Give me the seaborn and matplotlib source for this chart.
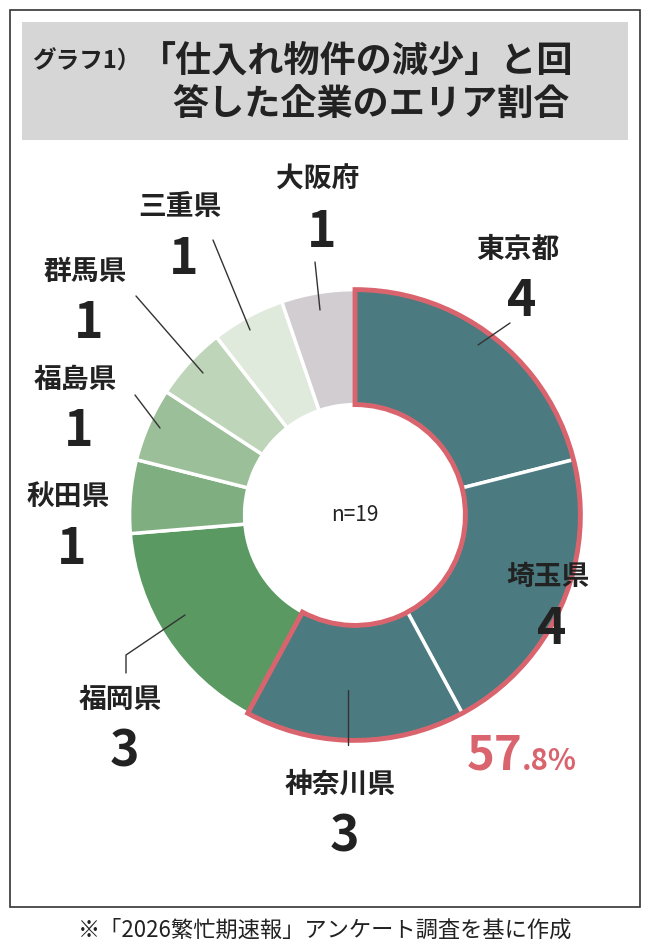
import matplotlib
matplotlib.use("Agg")
import matplotlib.pyplot as plt
from matplotlib.patches import Rectangle, Wedge
import seaborn as sns

sns.set_theme(style="white")
plt.rcParams['font.family'] = ['Noto Sans CJK JP', 'DejaVu Sans']

areas = ['東京都', '埼玉県', '神奈川県', '福岡県', '秋田県', '福島県', '群馬県', '三重県', '大阪府']
counts = [4, 4, 3, 3, 1, 1, 1, 1, 1]
colors = ['#4b7b80', '#4b7b80', '#4b7b80', '#5a9a62', '#7fae80', '#9bbf98',
          '#bed5ba', '#dfe9dc', '#d1cdd1']
share_int, share_dec = '57', '.8%'
n_total = sum(counts)

W, H = 649, 948
fig = plt.figure(figsize=(W / 100, H / 100), dpi=100)

# donut (drawn below the text layer)
cx, cy, R = 355, 515, 230
ax = fig.add_axes([(cx - R) / W, 1 - (cy + R) / H, 2 * R / W, 2 * R / H])
ax.pie(counts, colors=colors, startangle=90, counterclock=False, radius=0.98,
       wedgeprops=dict(width=0.50, edgecolor='white', linewidth=2.5))
ax.set_xlim(-1, 1)
ax.set_ylim(-1, 1)
ax.set_aspect('auto')
ax.axis('off')
top = sum(counts[:3])
ax.add_patch(Wedge((0, 0), 0.98, 90 - 360 * top / n_total, 90, width=0.50,
                   fill=False, ec='#d9646e', lw=3.5))
ax.text(0, 0, f'n={n_total}', ha='center', va='center', fontsize=15, color='#222222')
ax.set_zorder(0)

bg = fig.add_axes([0, 0, 1, 1])
bg.set_zorder(1)
bg.patch.set_alpha(0)
bg.set_xlim(0, W)
bg.set_ylim(H, 0)
bg.axis('off')

bg.add_patch(Rectangle((10, 10), 630, 897, fill=False, ec='#333333', lw=1.2))
bg.add_patch(Rectangle((22, 22), 606, 118, fc='#d6d6d6', ec='none'))
bg.text(32, 62, 'グラフ1）', fontsize=17, fontweight='bold', va='center', color='#222222')
bg.text(140, 62, '「仕入れ物件の減少」と回', fontsize=26, fontweight='bold', va='center', color='#222222')
bg.text(172, 105, '答した企業のエリア割合', fontsize=26, fontweight='bold', va='center', color='#222222')
bg.text(325, 930, '※「2026繁忙期速報」アンケート調査を基に作成', fontsize=16,
        ha='center', va='center', color='#222222')

label_pos = [(518, 250), (548, 577), (340, 785), (120, 700), (68, 497),
             (75, 380), (85, 272), (180, 207), (318, 180)]
for name, c, (x, y) in zip(areas, counts, label_pos):
    bg.text(x, y, name, ha='center', va='center', fontsize=20, fontweight='bold', color='#222222')
    bg.text(x + 4, y + 52, str(c), ha='center', va='center', fontsize=36,
            fontweight='bold', color='#222222')

bg.text(522, 755, share_int, ha='right', va='center', fontsize=34, fontweight='bold', color='#d9646e')
bg.text(522, 761, share_dec, ha='left', va='center', fontsize=21, fontweight='bold', color='#d9646e')

leaders = [[(478, 345), (510, 323)], [(348, 690), (348, 745)],
           [(185, 615), (126, 655), (126, 673)], [(135, 395), (160, 428)],
           [(136, 296), (203, 373)], [(213, 240), (250, 330)], [(315, 262), (320, 310)]]
for pts in leaders:
    xs, ys = zip(*pts)
    bg.plot(xs, ys, color='#333333', lw=1)

fig.savefig('out.png', dpi=100)
